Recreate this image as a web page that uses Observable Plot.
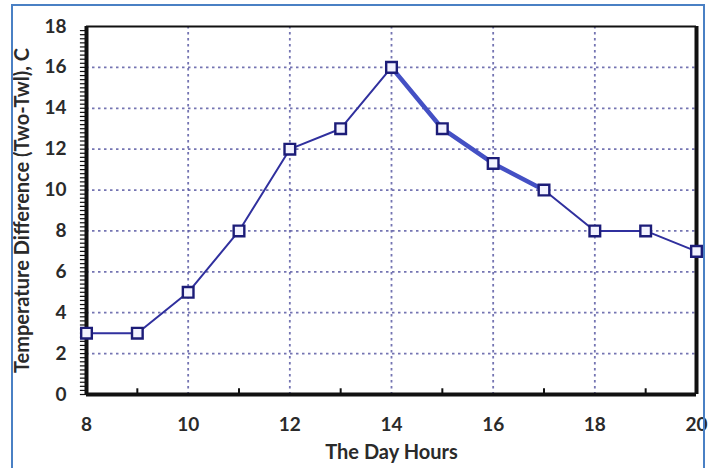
<!DOCTYPE html>
<html>
<head>
<meta charset="utf-8">
<script src="https://cdn.jsdelivr.net/npm/d3@7"></script>
<script src="https://cdn.jsdelivr.net/npm/@observablehq/plot@0.6"></script>
<style>
  html, body { margin: 0; padding: 0; background: #fff; }
  #wrap { position: relative; width: 709px; height: 468px; overflow: hidden; }
  #border { position: absolute; left: 11px; top: 4px; width: 694px; height: 480px; border: 2px solid #4a80c4; box-sizing: border-box; pointer-events: none; }
  svg { position: absolute; left: 0; top: 0; }
</style>
</head>
<body>
<div id="wrap"><div id="border"></div></div>
<script>
const hours = [8, 9, 10, 11, 12, 13, 14, 15, 16, 17, 18, 19, 20];
const tempDiff = [3, 3, 5, 8, 12, 13, 16, 13, 11.3, 10, 8, 8, 7];
const xTicks = [8, 10, 12, 14, 16, 18, 20];
const yTicks = [0, 2, 4, 6, 8, 10, 12, 14, 16, 18];
const xGrid = [10, 12, 14, 16, 18];
const yGrid = [2, 4, 6, 8, 10, 12, 14, 16];
const xMinor = [9, 11, 13, 15, 17, 19];
const yMinor = d3.range(0, 90).map(i => i * 0.2);
const xLabel = "The Day Hours";
const yLabel = "Temperature Difference (Two-Twl), C";

const data = hours.map((h, i) => ({h, v: tempDiff[i]}));
const thick = data.filter(d => d.h >= 14 && d.h <= 17);

const font = "Lato, 'Open Sans', sans-serif";

const chart = Plot.plot({
  width: 709,
  height: 468,
  marginLeft: 86,
  marginRight: 13,
  marginTop: 26,
  marginBottom: 74,
  style: {fontFamily: font, background: "transparent"},
  x: {domain: [8, 20]},
  y: {domain: [0, 18]},
  marks: [
    Plot.gridX(xGrid, {stroke: "#5c5ca4", strokeOpacity: 0.85, strokeDasharray: "2.5,3.5", strokeWidth: 1.8}),
    Plot.gridY(yGrid, {stroke: "#5c5ca4", strokeOpacity: 0.85, strokeDasharray: "2.5,3.5", strokeWidth: 1.8}),
    Plot.axisX(xTicks, {tickSize: 0, tickPadding: 23, fontSize: 19, fontWeight: "bold", fill: "#2a2a2a", label: null}),
    Plot.axisY(yTicks, {tickSize: 0, tickPadding: 20, fontSize: 19, fontWeight: "bold", fill: "#2a2a2a", label: null}),
    Plot.ruleX(xMinor, {x: d => d, y1: 0, y2: 0.28, stroke: "#111", strokeWidth: 2}),
    Plot.ruleY(yMinor, {y: d => d, x1: 7.88, x2: 8, stroke: "#111", strokeWidth: 1.2}),
    Plot.ruleY([18], {stroke: "#111", strokeWidth: 2}),
    Plot.ruleX([8], {stroke: "#111", strokeWidth: 4}),
    Plot.ruleX([20], {stroke: "#111", strokeWidth: 4}),
    Plot.ruleY([0], {stroke: "#111", strokeWidth: 4}),
    Plot.line(data, {x: "h", y: "v", stroke: "#30309e", strokeWidth: 2}),
    Plot.line(thick, {x: "h", y: "v", stroke: "#4450c4", strokeWidth: 4.5}),
    Plot.dot(data, {x: "h", y: "v", symbol: "square", r: 6, stroke: "#1c1c78", strokeWidth: 2.4, fill: "#f2f2ff"}),
    Plot.text([xLabel], {frameAnchor: "bottom", dy: 64, fontSize: 20, fontWeight: "bold", fill: "#2a2a2a", text: d => d}),
    Plot.text([yLabel], {frameAnchor: "left", dx: -64, rotate: -90, textAnchor: "middle", fontSize: 20, fontWeight: "bold", fill: "#2a2a2a", text: d => d})
  ]
});
document.getElementById("wrap").insertBefore(chart, document.getElementById("border"));
</script>
</body>
</html>
